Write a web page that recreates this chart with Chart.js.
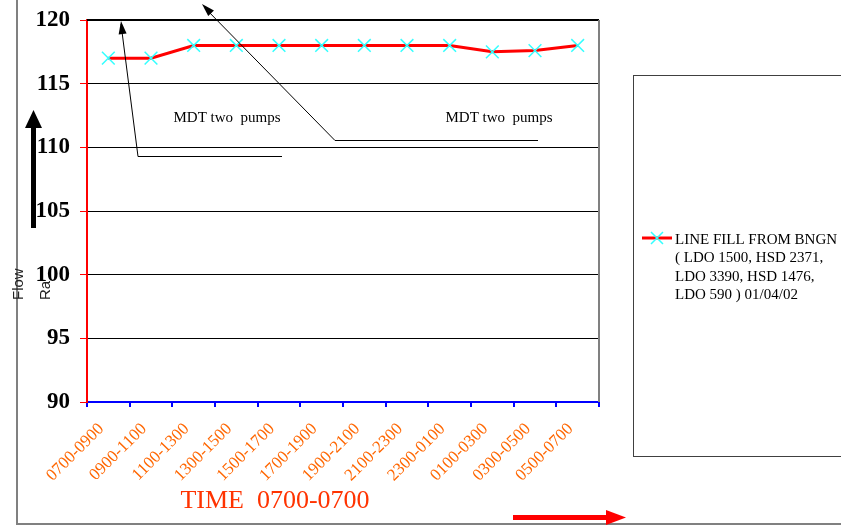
<!DOCTYPE html>
<html>
<head>
<meta charset="utf-8">
<script src="https://cdn.jsdelivr.net/npm/chart.js@4/dist/chart.umd.min.js"></script>
<style>
html,body{margin:0;padding:0;background:#fff;}
canvas{display:block;}
</style>
</head>
<body>
<canvas id="c" width="841" height="528"></canvas>
<script>
const categories = ["0700-0900","0900-1100","1100-1300","1300-1500","1500-1700","1700-1900","1900-2100","2100-2300","2300-0100","0100-0300","0300-0500","0500-0700"];
const flowRate = [117, 117, 118, 118, 118, 118, 118, 118, 118, 117.5, 117.6, 118];
const seriesLabel = ["LINE FILL FROM BNGN", "( LDO 1500, HSD 2371,", "LDO 3390, HSD 1476,", "LDO 590 ) 01/04/02"];
const annotationText = ["MDT two  pumps", "MDT two  pumps"];
const axisTitleX = "TIME  0700-0700";
const axisTitleY = ["Flow", "Rate"];
const yMin = 90, yMax = 120, yStep = 5;

const SERIF = "'Liberation Serif','Times New Roman',serif";
const SANS = "'Liberation Sans',Arial,sans-serif";

function arrowHead(ctx, x1, y1, x2, y2, len, w) {
  const a = Math.atan2(y2 - y1, x2 - x1);
  ctx.beginPath();
  ctx.moveTo(x2, y2);
  ctx.lineTo(x2 - len * Math.cos(a) + w/2 * Math.sin(a), y2 - len * Math.sin(a) - w/2 * Math.cos(a));
  ctx.lineTo(x2 - len * Math.cos(a) - w/2 * Math.sin(a), y2 - len * Math.sin(a) + w/2 * Math.cos(a));
  ctx.closePath();
  ctx.fill();
}

const decor = {
  id: 'decor',
  beforeDraw(chart) {
    const ctx = chart.ctx;
    ctx.save();
    ctx.fillStyle = '#fff';
    ctx.fillRect(0, 0, chart.width, chart.height);
    // outer frame
    ctx.strokeStyle = '#808080';
    ctx.lineWidth = 2;
    ctx.beginPath();
    ctx.moveTo(17, 0); ctx.lineTo(17, 524); ctx.lineTo(chart.width, 524);
    ctx.stroke();
    // y title texts
    ctx.fillStyle = '#222';
    ctx.font = "15px " + SANS;
    ctx.textAlign = 'left';
    ctx.textBaseline = 'alphabetic';
    ctx.save(); ctx.translate(23, 300); ctx.rotate(-Math.PI/2); ctx.fillText(axisTitleY[0], 0, 0); ctx.restore();
    ctx.save();
    ctx.beginPath(); ctx.rect(30, 280, 30, 30); ctx.clip();
    ctx.translate(50, 300); ctx.rotate(-Math.PI/2); ctx.fillText(axisTitleY[1], 0, 0);
    ctx.restore();
    ctx.restore();
  },
  afterDraw(chart) {
    const ctx = chart.ctx;
    const a = chart.chartArea;
    ctx.save();
    // top border of plot
    ctx.strokeStyle = '#000';
    ctx.lineWidth = 2;
    ctx.beginPath(); ctx.moveTo(a.left, a.top); ctx.lineTo(a.right, a.top); ctx.stroke();
    // right border
    ctx.strokeStyle = '#808080';
    ctx.lineWidth = 2;
    ctx.beginPath(); ctx.moveTo(a.right, a.top); ctx.lineTo(a.right, a.bottom); ctx.stroke();

    // annotations
    ctx.fillStyle = '#000';
    ctx.font = "15px " + SERIF;
    ctx.textAlign = 'center';
    ctx.textBaseline = 'alphabetic';
    ctx.fillText(annotationText[0], 227, 122);
    ctx.fillText(annotationText[1], 499, 122);
    ctx.strokeStyle = '#000';
    ctx.lineWidth = 1;
    ctx.beginPath(); ctx.moveTo(282, 156.5); ctx.lineTo(138, 156.5); ctx.lineTo(121, 24); ctx.stroke();
    arrowHead(ctx, 138, 156, 121, 21, 13, 8);
    ctx.beginPath(); ctx.moveTo(538, 140.5); ctx.lineTo(335, 140.5); ctx.lineTo(205, 8); ctx.stroke();
    arrowHead(ctx, 335, 140, 202, 4, 13, 8);

    // up black arrow
    ctx.fillStyle = '#000';
    ctx.fillRect(31, 126, 5, 102);
    ctx.beginPath(); ctx.moveTo(33.5, 110); ctx.lineTo(42, 128); ctx.lineTo(25, 128); ctx.closePath(); ctx.fill();

    // red right arrow
    ctx.fillStyle = '#ff0000';
    ctx.fillRect(513, 515, 95, 5);
    ctx.beginPath(); ctx.moveTo(626, 517.5); ctx.lineTo(606, 510); ctx.lineTo(606, 525); ctx.closePath(); ctx.fill();

    // x title
    ctx.fillStyle = '#ff3300';
    ctx.font = "26px " + SERIF;
    ctx.textAlign = 'center';
    ctx.fillText(axisTitleX, 275, 508);

    // legend box
    ctx.strokeStyle = '#404040';
    ctx.lineWidth = 1;
    ctx.strokeRect(633.5, 75.5, 220, 381);
    ctx.strokeStyle = '#ff0000';
    ctx.lineWidth = 3;
    ctx.beginPath(); ctx.moveTo(642, 238); ctx.lineTo(672, 238); ctx.stroke();
    ctx.strokeStyle = '#33ffff';
    ctx.lineWidth = 1.5;
    ctx.beginPath();
    ctx.moveTo(651, 232); ctx.lineTo(663, 244);
    ctx.moveTo(663, 232); ctx.lineTo(651, 244);
    ctx.stroke();
    ctx.fillStyle = '#000';
    ctx.font = "15px " + SERIF;
    ctx.textAlign = 'left';
    seriesLabel.forEach((t, i) => ctx.fillText(t, 675, 244 + i * 18.3));
    ctx.restore();
  }
};

new Chart(document.getElementById('c'), {
  type: 'line',
  data: {
    labels: categories,
    datasets: [{
      label: seriesLabel.join(' '),
      data: flowRate,
      borderColor: '#ff0000',
      borderWidth: 3,
      tension: 0,
      pointStyle: 'crossRot',
      pointRadius: 9,
      pointBorderColor: '#33ffff',
      pointBorderWidth: 1.5,
      pointBackgroundColor: '#33ffff',
      clip: false
    }]
  },
  options: {
    responsive: false,
    animation: false,
    devicePixelRatio: 1,
    layout: { padding: { left: 0, top: 20, right: 242, bottom: 0 } },
    plugins: { legend: { display: false }, tooltip: { enabled: false } },
    scales: {
      x: {
        offset: true,
        grid: { drawOnChartArea: false, tickColor: '#0000ff', tickLength: 5, lineWidth: 2, offset: true },
        border: { color: '#0000ff', width: 2 },
        ticks: {
          autoSkip: false, maxRotation: 45, minRotation: 45,
          color: '#ff6600', font: { family: SERIF, size: 17 }, padding: 12, labelOffset: -7
        },
        afterFit(s) { s.height = 126; }
      },
      y: {
        min: yMin, max: yMax,
        grid: { color: '#000', lineWidth: 1, tickColor: '#ff0000', tickLength: 7 },
        border: { color: '#ff0000', width: 2 },
        ticks: {
          stepSize: yStep, color: '#000',
          font: { family: SERIF, size: 23, weight: 'bold' }, padding: 10
        },
        afterFit(s) { s.width = 87; s.paddingTop = 0; s.paddingBottom = 0; }
      }
    }
  },
  plugins: [decor]
});
</script>
</body>
</html>
